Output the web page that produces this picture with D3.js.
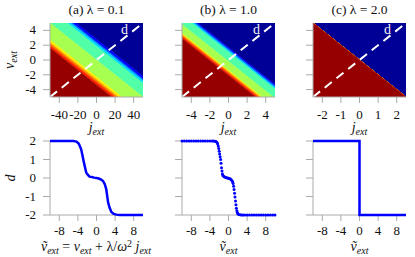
<!DOCTYPE html>
<html>
<head>
<meta charset="utf-8">
<script src="https://cdnjs.cloudflare.com/ajax/libs/d3/7.8.5/d3.min.js"></script>
<style>
  body { margin: 0; background: #fff; }
  text { font-family: 'Liberation Serif', 'DejaVu Serif', serif; fill: #111; }
</style>
</head>
<body>
<script>
var W = 415, H = 257;

// panels
var lambdas = [0.1, 1.0, 2.0];
var titles = ['(a) λ = 0.1', '(b) λ = 1.0', '(c) λ = 2.0'];
var jExtent = [50, 5, 2.5];
var jTicks = [[-40, -20, 0, 20, 40], [-4, -2, 0, 2, 4], [-2, -1, 0, 1, 2]];
var vTicks = [-4, -2, 0, 2, 4];
var vtTicks = [-8, -4, 0, 4, 8];
var dTicks = [2, 1, 0, -1, -2];
var levels = [-2, -1.6, -1.2, -0.8, -0.4, 0, 0.4, 0.8, 1.2, 1.6, 2];

// d versus v~
var aV = [-10, -5, -4.3, -3.8, -3.3, -3.0, -2.7, -2.4, -2.2, -1.8, -1.5, -1.0, -0.5, 0, 0.5, 1.0, 1.4, 1.8, 2.1, 2.5, 2.8, 3.2, 3.7, 4.3, 5, 10];
var aD = [2, 2, 1.97, 1.85, 1.55, 1.2, 0.83, 0.5, 0.29, 0.15, 0.07, 0.05, 0.02, 0, -0.03, -0.08, -0.16, -0.35, -0.61, -1.33, -1.6, -1.84, -1.94, -1.98, -2, -2];

var bV = [-10, -9.5, -9, -8.5, -8, -7.5, -7, -6.5, -6, -5.5, -5, -4.5, -4, -3.5, -3.2, -2.9, -2.7, -2.5, -2.35, -2.2, -2.1, -2.0, -1.9, -1.8, -1.7, -1.6, -1.5, -1.4, -1.3, -1.2, -1.0, -0.8, -0.6, -0.4, -0.2, 0, 0.2, 0.4, 0.6, 0.8, 0.9, 1.0, 1.1, 1.2, 1.3, 1.4, 1.5, 1.6, 1.7, 1.8, 1.9, 2.0, 2.2, 2.5, 2.8, 3.1, 3.5, 4, 4.5, 5, 5.5, 6, 6.5, 7, 7.5, 8, 8.5, 9, 9.5, 10];
var bD = [2, 2, 2, 2, 2, 2, 2, 2, 2, 2, 2, 2, 2, 2, 2, 1.99, 1.97, 1.93, 1.85, 1.73, 1.6, 1.45, 1.3, 1.15, 1.0, 0.8, 0.56, 0.38, 0.22, 0.13, 0.08, 0.05, 0.03, 0.02, 0, -0.01, -0.03, -0.06, -0.1, -0.16, -0.22, -0.3, -0.45, -0.62, -0.82, -1.03, -1.24, -1.45, -1.63, -1.77, -1.87, -1.93, -1.97, -1.99, -2, -2, -2, -2, -2, -2, -2, -2, -2, -2, -2, -2, -2, -2, -2, -2];

var cV = [-10, 0, 0, 10];
var cD = [2, 2, -2, -2];

var curves = [[aV, aD], [bV, bD], [cV, cD]];

// layout
var colX = [50, 182, 313];
var pw = 93, ph = 74;
var topY = 23, botY = 141;
var gray = '#aaaaaa';
var tickFont = '13px';

var svg = d3.select('body').append('svg')
  .attr('width', W)
  .attr('height', H);

// matplotlib jet
var jr = d3.scaleLinear().domain([0, 0.35, 0.66, 0.89, 1]).range([0, 0, 1, 1, 0.5]).clamp(true);
var jg = d3.scaleLinear().domain([0, 0.125, 0.375, 0.64, 0.91, 1]).range([0, 0, 1, 1, 0, 0]).clamp(true);
var jb = d3.scaleLinear().domain([0, 0.11, 0.34, 0.65, 1]).range([0.5, 1, 1, 0, 0]).clamp(true);
function jet(t) {
  return d3.rgb(jr(t) * 255, jg(t) * 255, jb(t) * 255).toString();
}

// v~ where a curve crosses level L
function crossAt(vs, ds, L) {
  for (var i = 0; i < vs.length - 1; i++) {
    var a = ds[i] - L, b = ds[i + 1] - L;
    if (a * b <= 0 && ds[i] !== ds[i + 1]) {
      return vs[i] + (vs[i + 1] - vs[i]) * (ds[i] - L) / (ds[i] - ds[i + 1]);
    }
  }
  return 0;
}

function subLabel(g, x, y, main, sub, opts) {
  var t = g.append('text')
    .attr('x', x)
    .attr('y', y)
    .attr('text-anchor', 'middle')
    .style('font-size', '14px');
  if (opts && opts.rotate) t.attr('transform', 'rotate(-90,' + x + ',' + y + ')');
  t.append('tspan').style('font-style', 'italic').text(main);
  t.append('tspan').attr('dy', 2.5).style('font-style', 'italic').style('font-size', '10px').text(sub);
  return t;
}

var nb = levels.length - 1;

lambdas.forEach(function(lam, p) {
  var x0 = colX[p];
  var J = jExtent[p];
  var xs = d3.scaleLinear().domain([-J, J]).range([x0, x0 + pw]);
  var ys = d3.scaleLinear().domain([-5, 5]).range([topY + ph, topY]);
  var xb = d3.scaleLinear().domain([-10, 10]).range([x0, x0 + pw]);
  var yb = d3.scaleLinear().domain([-2, 2]).range([botY + ph, botY]);
  var cv = curves[p][0], cd = curves[p][1];

  // ---- heatmap (bands along v + lambda j = const)
  svg.append('clipPath').attr('id', 'clip' + p)
    .append('rect')
    .attr('x', x0).attr('y', topY).attr('width', pw).attr('height', ph);

  var hm = svg.append('g').attr('clip-path', 'url(#clip' + p + ')');
  for (var k = 0; k < nb; k++) {
    var hi = k === 0 ? 200 : crossAt(cv, cd, levels[k]);
    var lo = k === nb - 1 ? -200 : crossAt(cv, cd, levels[k + 1]);
    var j1 = -3 * J, j2 = 3 * J;
    var pts = [[j1, lo - lam * j1], [j2, lo - lam * j2], [j2, hi - lam * j2], [j1, hi - lam * j1]];
    var col = jet(0.02 + 0.96 * k / (nb - 1));
    hm.append('polygon')
      .attr('points', pts.map(function(q) { return xs(q[0]) + ',' + ys(q[1]); }).join(' '))
      .style('fill', col)
      .style('stroke', col)
      .style('stroke-width', 0.6);
  }

  // diagonal direction line and its label
  svg.append('line')
    .attr('x1', xs(-J)).attr('y1', ys(-5))
    .attr('x2', xs(J)).attr('y2', ys(5))
    .style('stroke', '#fff')
    .style('stroke-width', 2)
    .style('stroke-dasharray', '9,6');
  svg.append('text')
    .attr('x', xs(0.6 * J)).attr('y', ys(3.55))
    .attr('text-anchor', 'middle')
    .style('font-size', '14px')
    .style('fill', '#f2f2f2')
    .text('d');

  // heatmap axes
  var topAx = svg.append('g');
  topAx.append('line').attr('x1', x0).attr('x2', x0).attr('y1', topY).attr('y2', topY + ph).style('stroke', gray);
  topAx.append('line').attr('x1', x0).attr('x2', x0 + pw).attr('y1', topY + ph).attr('y2', topY + ph).style('stroke', gray);
  jTicks[p].forEach(function(t) {
    topAx.append('line').attr('x1', xs(t)).attr('x2', xs(t)).attr('y1', topY + ph).attr('y2', topY + ph + 6).style('stroke', gray);
    topAx.append('text').attr('x', xs(t)).attr('y', topY + ph + 22)
      .attr('text-anchor', 'middle').style('font-size', tickFont).text(t);
  });
  vTicks.forEach(function(t) {
    topAx.append('line').attr('x1', x0 - 7).attr('x2', x0).attr('y1', ys(t)).attr('y2', ys(t)).style('stroke', gray);
    if (p === 0) {
      topAx.append('text').attr('x', x0 - 14).attr('y', ys(t) + 4)
        .attr('text-anchor', 'end').style('font-size', tickFont).text(t);
    }
  });

  svg.append('text')
    .attr('x', x0 + pw / 2).attr('y', 14)
    .attr('text-anchor', 'middle')
    .style('font-size', '13.5px')
    .text(titles[p]);

  subLabel(svg, x0 + pw / 2, 132, 'j', 'ext');

  // ---- lower panel: d versus v~
  var botAx = svg.append('g');
  botAx.append('line').attr('x1', x0).attr('x2', x0).attr('y1', botY).attr('y2', botY + ph).style('stroke', gray);
  botAx.append('line').attr('x1', x0).attr('x2', x0 + pw).attr('y1', botY + ph).attr('y2', botY + ph).style('stroke', gray);
  vtTicks.forEach(function(t) {
    botAx.append('line').attr('x1', xb(t)).attr('x2', xb(t)).attr('y1', botY + ph).attr('y2', botY + ph + 6).style('stroke', gray);
    botAx.append('text').attr('x', xb(t)).attr('y', botY + ph + 20)
      .attr('text-anchor', 'middle').style('font-size', tickFont).text(t);
  });
  dTicks.forEach(function(t) {
    botAx.append('line').attr('x1', x0 - 7).attr('x2', x0).attr('y1', yb(t)).attr('y2', yb(t)).style('stroke', gray);
    if (p === 0) {
      botAx.append('text').attr('x', x0 - 14).attr('y', yb(t) + 4)
        .attr('text-anchor', 'end').style('font-size', tickFont).text(t);
    }
  });

  var pts2 = cv.map(function(v, i) { return [v, cd[i]]; });
  if (p === 1) {
    svg.append('g').selectAll('circle')
      .data(pts2)
      .enter().append('circle')
      .attr('cx', function(d) { return xb(d[0]); })
      .attr('cy', function(d) { return yb(d[1]); })
      .attr('r', 1.5)
      .style('fill', '#0000ff');
  } else {
    svg.append('path')
      .datum(pts2)
      .attr('d', d3.line().x(function(d) { return xb(d[0]); }).y(function(d) { return yb(d[1]); }))
      .style('fill', 'none')
      .style('stroke', '#0000ff')
      .style('stroke-width', 2.5);
  }

  if (p > 0) subLabel(svg, x0 + pw / 2, 251, 'ṽ', 'ext');
});

// shared y labels
subLabel(svg, 14, 60, 'v', 'ext', { rotate: true });
svg.append('text')
  .attr('x', 15).attr('y', 178)
  .attr('text-anchor', 'middle')
  .attr('transform', 'rotate(-90,15,178)')
  .style('font-size', '14px')
  .style('font-style', 'italic')
  .text('d');

// long x label under panel (a)
var lab = svg.append('text')
  .attr('x', 96).attr('y', 251)
  .attr('text-anchor', 'middle')
  .style('font-size', '14px');
lab.append('tspan').style('font-style', 'italic').text('ṽ');
lab.append('tspan').attr('dy', 2.5).style('font-style', 'italic').style('font-size', '10px').text('ext');
lab.append('tspan').attr('dy', -2.5).text(' = ');
lab.append('tspan').style('font-style', 'italic').text('v');
lab.append('tspan').attr('dy', 2.5).style('font-style', 'italic').style('font-size', '10px').text('ext');
lab.append('tspan').attr('dy', -2.5).text(' + λ/');
lab.append('tspan').style('font-style', 'italic').text('ω');
lab.append('tspan').attr('dy', -4.5).style('font-size', '10px').text('2');
lab.append('tspan').attr('dy', 4.5).style('font-style', 'italic').text(' j');
lab.append('tspan').attr('dy', 2.5).style('font-style', 'italic').style('font-size', '10px').text('ext');
</script>
</body>
</html>
